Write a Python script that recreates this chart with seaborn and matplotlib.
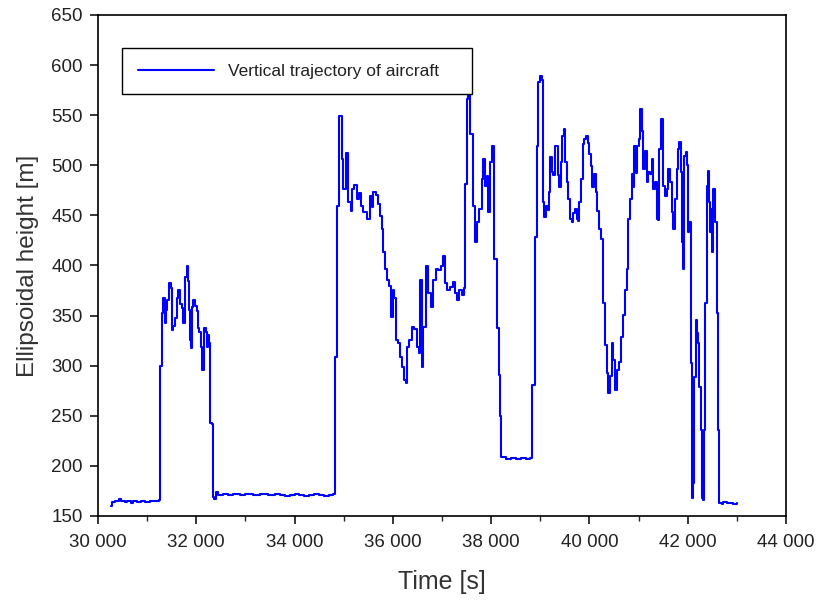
import seaborn as sns
import matplotlib.pyplot as plt
from matplotlib.ticker import FuncFormatter, MultipleLocator

# flight record (steps between samples)
time_s = [
    30270, 30290, 30350, 30420, 30470, 30550, 30600, 30680, 30720, 30800, 30870, 30950, 31050, 31150, 31241,
    31262, 31296, 31330, 31364, 31384, 31411, 31445, 31480, 31499, 31533, 31567, 31601, 31635, 31669, 31703,
    31737, 31770, 31805, 31825, 31852, 31872, 31893, 31913, 31940, 31974, 32008, 32028, 32062, 32096, 32123,
    32157, 32192, 32212, 32245, 32266, 32279, 32313, 32333, 32361, 32401,
    32450, 32550, 32650, 32750, 32900, 33000, 33150, 33300, 33450, 33600, 33700, 33800, 33900, 34000, 34100,
    34200, 34300, 34400, 34500, 34600, 34700, 34780,
    34823, 34870, 34904, 34959, 34993, 35047, 35094, 35142, 35176, 35216, 35264, 35317, 35345, 35399, 35467,
    35535, 35569, 35603, 35657, 35705, 35739, 35773, 35807, 35841, 35875, 35922, 35956, 35997, 36024, 36064,
    36112, 36146, 36180, 36227, 36268, 36295, 36336, 36383, 36431, 36485, 36526, 36553, 36587, 36620, 36675,
    36722, 36770, 36824, 36878, 36926, 36974, 37028, 37061, 37108, 37163, 37217, 37265, 37299, 37353, 37401,
    37448, 37475, 37503, 37537, 37570, 37625, 37672, 37706, 37760, 37808, 37842, 37876, 37910, 37944, 37977,
    38024, 38059, 38113, 38160, 38181, 38200,
    38300, 38400, 38500, 38600, 38700, 38800,
    38839, 38893, 38927, 38961, 38995, 39029, 39049, 39083, 39117, 39151, 39178, 39198, 39233, 39266, 39300,
    39334, 39354, 39381, 39416, 39449, 39483, 39503, 39538, 39571, 39605, 39640, 39672, 39707, 39741, 39774,
    39795, 39829, 39864, 39896, 39931, 39966, 39998, 40026, 40059, 40094, 40128, 40161, 40195, 40236, 40283,
    40317, 40352, 40384, 40419, 40454, 40486, 40521, 40556, 40609, 40643, 40690, 40724, 40758, 40792, 40827,
    40861, 40893, 40914, 40948, 40974, 41003, 41030, 41065, 41097, 41132, 41166, 41199, 41233,
    41268, 41301, 41335, 41369, 41403, 41423, 41451, 41477, 41491, 41538, 41573, 41593, 41640, 41675, 41708,
    41742, 41776, 41810, 41830, 41858, 41878, 41898, 41925, 41960, 41980, 42014, 42035, 42063, 42082, 42116,
    42136, 42165, 42185, 42218, 42238, 42271, 42291, 42319, 42339, 42360, 42387, 42407, 42428, 42455, 42475,
    42502, 42522, 42556, 42590, 42624, 42644, 42692, 42726, 42794, 42861, 42929, 42997,
]
height_m = [
    160, 164, 165, 167, 165, 164, 165, 163, 165, 164, 165, 164, 165, 165, 166,
    300, 353, 368, 343, 356, 366, 383, 378, 336, 340, 348, 368, 376, 362, 358,
    343, 389, 399, 385, 356, 326, 318, 359, 366, 360, 355, 338, 334, 319, 296,
    338, 334, 319, 331, 323, 243, 242, 169, 167, 174,
    171, 172, 171, 172, 171, 172, 171, 172, 171, 172, 171, 170, 171, 172, 171,
    170, 171, 172, 171, 170, 171, 172,
    309, 459, 549, 506, 476, 512, 463, 454, 476, 480, 466, 472, 459, 453, 446,
    469, 458, 473, 470, 461, 449, 436, 413, 396, 386, 380, 349, 376, 368, 326,
    323, 309, 299, 286, 283, 319, 326, 339, 337, 319, 313, 386, 299, 339, 399,
    373, 359, 386, 396, 395, 399, 409, 383, 376, 379, 384, 373, 366, 376, 371,
    378, 481, 566, 571, 531, 459, 423, 443, 456, 486, 506, 479, 489, 453, 503,
    519, 406, 338, 291, 250, 209,
    207, 208, 207, 208, 207, 208,
    281, 428, 519, 583, 589, 585, 463, 448, 459, 455, 473, 508, 493, 490, 519,
    519, 490, 478, 503, 529, 536, 503, 483, 466, 446, 443, 452, 456, 446, 444,
    463, 486, 521, 526, 529, 522, 511, 499, 478, 491, 473, 454, 436, 426, 363,
    321, 293, 273, 290, 323, 306, 276, 296, 304, 329, 351, 376, 396, 446, 466,
    491, 478, 519, 492, 519, 526, 556, 534, 496, 514, 483, 493, 491,
    506, 476, 483, 446, 445, 516, 546, 546, 479, 469, 476, 496, 483, 453, 436,
    466, 496, 516, 523, 493, 423, 396, 509, 513, 500, 433, 443, 303, 168, 183,
    289, 346, 333, 323, 279, 236, 168, 166, 236, 363, 479, 494, 463, 433, 456,
    413, 476, 443, 353, 236, 163, 162, 164, 163, 163, 162, 163,
]
series_label = 'Vertical trajectory of aircraft'
x_ticks = list(range(30000, 44001, 2000))
y_ticks = list(range(150, 651, 50))

sns.set_style('ticks')
plt.rcParams['font.family'] = ['Liberation Sans', 'DejaVu Sans']

fig = plt.figure(figsize=(8.22, 6.02), dpi=100)
ax = fig.add_axes([0.1192, 0.1429, 0.837, 0.8322])

sns.lineplot(x=time_s, y=height_m, ax=ax, color='#0000ff', linewidth=1.5,
             drawstyle='steps-post', estimator=None, sort=False, label=series_label)

ax.set_xlim(30000, 44000)
ax.set_ylim(150, 650)
ax.set_xticks(x_ticks)
ax.set_yticks(y_ticks)
ax.xaxis.set_minor_locator(MultipleLocator(1000))
ax.xaxis.set_major_formatter(FuncFormatter(lambda v, p: f'{v:,.0f}'.replace(',', ' ')))

for s in ax.spines.values():
    s.set_visible(True)
    s.set_linewidth(1.2)
    s.set_color('black')
ax.tick_params(axis='both', which='major', direction='out', length=6, width=1.1,
               labelsize=13.5, colors='black', labelcolor='#222222')
ax.tick_params(axis='x', which='major', pad=7)
ax.tick_params(axis='y', which='major', pad=5)
ax.tick_params(axis='x', which='minor', direction='out', length=3.5, width=1.0)

ax.set_xlabel('Time [s]', fontsize=18, color='#333333', labelpad=14)
ax.set_ylabel('Ellipsoidal height [m]', fontsize=17.5, color='#333333', labelpad=9)

leg = ax.legend(loc='upper left', bbox_to_anchor=(0.035, 0.842, 0.509, 0.092), mode='expand',
                borderaxespad=0, fontsize=12.5, handlelength=4.4, handletextpad=0.8, borderpad=0.9,
                fancybox=False, framealpha=1, edgecolor='black')
leg.get_frame().set_linewidth(1.0)
for t in leg.get_texts():
    t.set_color('#222222')

plt.savefig('out.png', dpi=100)
